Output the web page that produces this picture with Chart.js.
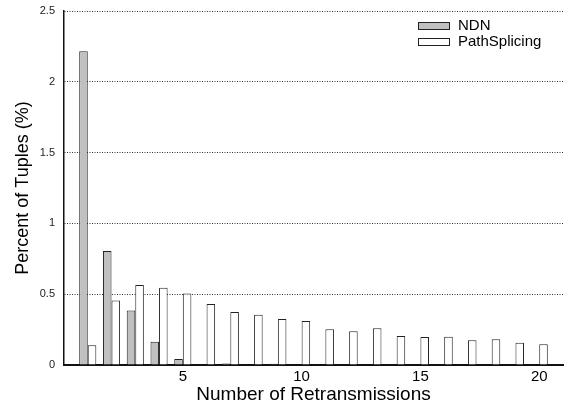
<!DOCTYPE html>
<html>
<head>
<meta charset="utf-8">
<script src="https://cdn.jsdelivr.net/npm/chart.js@4.4.0/dist/chart.umd.min.js"></script>
<style>
  html, body { margin: 0; padding: 0; background: #fff; }
  #wrap { width: 564px; height: 404px; }
</style>
</head>
<body>
<div id="wrap"><canvas id="chart"></canvas></div>
<script>
const RETRANSMISSIONS = [1, 2, 3, 4, 5, 6, 7, 8, 9, 10, 11, 12, 13, 14, 15, 16, 17, 18, 19, 20];
const NDN = [2.215, 0.805, 0.385, 0.165, 0.042, 0.005, 0.01, 0.004, 0.008, 0.003, 0, 0, 0, 0, 0, 0, 0, 0, 0, 0];
const PATH_SPLICING = [0.14, 0.455, 0.565, 0.545, 0.505, 0.43, 0.375, 0.355, 0.325, 0.31,
  0.252, 0.238, 0.259, 0.205, 0.198, 0.2, 0.175, 0.181, 0.157, 0.146];
const X_TICK_LABELS = [5, 10, 15, 20];
const Y_TICK_LABELS = [0, 0.5, 1, 1.5, 2, 2.5];

const FONT = '"Liberation Sans", Arial, Helvetica, sans-serif';

// legend drawn inside the plot, top right
const insideLegend = {
  id: "insideLegend",
  afterDraw(chart) {
    const ctx = chart.ctx;
    const area = chart.chartArea;
    ctx.save();
    chart.data.datasets.forEach((ds, i) => {
      const x = area.right - 145;
      const y = area.top + 11 + i * 16;
      ctx.fillStyle = ds.backgroundColor;
      ctx.fillRect(x + 0.5, y + 0.5, 31, 7);
      ctx.strokeStyle = "#222";
      ctx.lineWidth = 1;
      ctx.strokeRect(x + 0.5, y + 0.5, 31, 7);
      ctx.fillStyle = "#000";
      ctx.font = "15px " + FONT;
      ctx.textBaseline = "middle";
      ctx.fillText(ds.label, x + 40, y + 4);
    });
    ctx.restore();
  },
};

new Chart(document.getElementById("chart"), {
  type: "bar",
  data: {
    datasets: [
      {
        label: "NDN",
        data: RETRANSMISSIONS.map((x, i) => ({ x, y: NDN[i] })),
        backgroundColor: "#c0c0c0",
        borderColor: "#222",
        borderWidth: 1,
        categoryPercentage: 0.72,
        barPercentage: 1,
      },
      {
        label: "PathSplicing",
        data: RETRANSMISSIONS.map((x, i) => ({ x, y: PATH_SPLICING[i] })),
        backgroundColor: "#ffffff",
        borderColor: "#222",
        borderWidth: 1,
        categoryPercentage: 0.72,
        barPercentage: 1,
      },
    ],
  },
  options: {
    responsive: true,
    maintainAspectRatio: false,
    animation: false,
    layout: { padding: { top: 11, right: 1, left: 0, bottom: 0 } },
    plugins: { legend: { display: false }, tooltip: { enabled: false } },
    scales: {
      x: {
        type: "linear",
        min: 0,
        max: 21,
        offset: false,
        afterFit(scale) {
          scale.height = 39;
          scale.paddingLeft = 0;
          scale.paddingRight = 0;
        },
        afterBuildTicks(scale) {
          scale.ticks = X_TICK_LABELS.map((v) => ({ value: v }));
        },
        ticks: {
          color: "#000",
          font: { family: FONT, size: 15 },
          padding: 3,
          maxRotation: 0,
          autoSkip: false,
          callback: (v) => String(v),
        },
        grid: { display: false, drawTicks: false },
        border: { display: true, color: "#111", width: 2 },
        title: {
          display: true,
          text: "Number of Retransmissions",
          color: "#000",
          font: { family: FONT, size: 19 },
          padding: { top: 0, bottom: -2 },
        },
      },
      y: {
        min: 0,
        max: 2.5,
        afterFit(scale) {
          scale.width = 64;
          scale.paddingTop = 0;
          scale.paddingBottom = 0;
        },
        afterBuildTicks(scale) {
          scale.ticks = Y_TICK_LABELS.map((v) => ({ value: v }));
        },
        ticks: {
          color: "#222",
          font: { family: FONT, size: 11 },
          padding: 9,
          callback: (v) => String(v),
        },
        grid: { color: "#333", lineWidth: 1, drawTicks: false },
        border: { display: true, color: "#111", width: 1.5, dash: [1, 1.5] },
        title: {
          display: true,
          text: "Percent of Tuples (%)",
          color: "#000",
          font: { family: FONT, size: 18 },
          padding: { top: 12, bottom: 0 },
        },
      },
    },
  },
  plugins: [insideLegend],
});
</script>
</body>
</html>
